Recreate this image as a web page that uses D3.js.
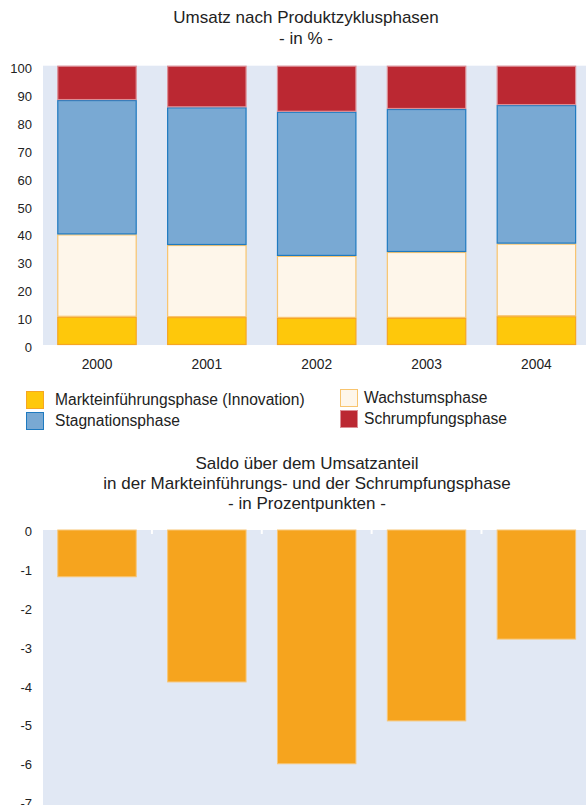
<!DOCTYPE html>
<html>
<head>
<meta charset="utf-8">
<script src="https://cdn.jsdelivr.net/npm/d3@7"></script>
<style>
  body { margin: 0; background: #fff; }
  svg { display: block; font-family: "Liberation Sans", Arial, sans-serif; fill: #222; }
</style>
</head>
<body>
<div id="chart"></div>
<script>
const YEARS = ["2000", "2001", "2002", "2003", "2004"];
const PHASES = ["Markteinführungsphase (Innovation)", "Wachstumsphase", "Stagnationsphase", "Schrumpfungsphase"];
const INNOVATION = [10.1, 10.0, 9.7, 9.7, 10.3];
const WACHSTUM = [29.5, 25.8, 22.2, 23.6, 26.0];
const STAGNATION = [48.1, 49.3, 51.6, 51.2, 49.6];
const SCHRUMPFUNG = [12.3, 14.9, 16.5, 15.5, 14.1];
const SALDO = [-1.2, -3.9, -6.0, -4.9, -2.8];
const TOP_TICKS = d3.range(0, 101, 10);
const BOTTOM_TICKS = d3.range(0, -8, -1);
const SUB_TITLE = ["Saldo über dem Umsatzanteil", "in der Markteinführungs- und der Schrumpfungsphase", "- in Prozentpunkten -"];

const FILL = ["#fec80b", "#fef6ea", "#79a9d3", "#bb2832"];
const STROKE = ["#f6a623", "#f8c46e", "#1f7ac0", "#dc8e95"];
const BG = "#e1e8f4";
const FONT = "Liberation Sans, Arial, sans-serif";

const W = 586, H = 805;
const svg = d3.select("#chart").append("svg").attr("width", W).attr("height", H);

const x = d3.scaleBand().domain(YEARS).range([43, 590.4]).paddingInner(0.277).paddingOuter(0.13);

// ---- top chart: stacked shares
svg.append("text").attr("x", 306).attr("y", 23).attr("text-anchor", "middle")
  .style("font-size", "17px").text("Umsatz nach Produktzyklusphasen");
svg.append("text").attr("x", 306).attr("y", 44).attr("text-anchor", "middle")
  .style("font-size", "17px").text("- in % -");

const yTop = d3.scaleLinear().domain([0, 100]).range([345, 65.7]);

svg.append("rect").attr("x", 43).attr("y", yTop(100)).attr("width", W - 43)
  .attr("height", yTop(0) - yTop(100)).attr("fill", BG);

const rows = YEARS.map((y, i) => ({ year: y, 0: INNOVATION[i], 1: WACHSTUM[i], 2: STAGNATION[i], 3: SCHRUMPFUNG[i] }));
const stack = d3.stack().keys([0, 1, 2, 3])(rows);

stack.forEach((layer, k) => {
  svg.append("g").selectAll("rect").data(layer).enter().append("rect")
    .attr("x", d => x(d.data.year) + 0.5)
    .attr("y", d => yTop(Math.min(d[1], 100)) + 0.5)
    .attr("width", x.bandwidth() - 1)
    .attr("height", d => yTop(d[0]) - yTop(Math.min(d[1], 100)) - 1)
    .attr("fill", FILL[k])
    .attr("stroke", STROKE[k])
    .attr("stroke-width", 1.2);
});

const yAxisTop = svg.append("g").attr("transform", "translate(32,2.5)")
  .call(d3.axisLeft(yTop).tickValues(TOP_TICKS).tickSize(0).tickPadding(0));
yAxisTop.select(".domain").remove();
yAxisTop.selectAll("text").style("font-size", "13px").attr("fill", "#222").attr("font-family", FONT);

const xAxisTop = svg.append("g").attr("transform", "translate(0,359)")
  .call(d3.axisBottom(x).tickSize(0).tickPadding(0));
xAxisTop.select(".domain").remove();
xAxisTop.selectAll("text").style("font-size", "13.8px").attr("fill", "#222").attr("font-family", FONT);

// legend
const legendItems = [
  { i: 0, x: 26, y: 391 },
  { i: 2, x: 26, y: 412 },
  { i: 1, x: 340, y: 389 },
  { i: 3, x: 340, y: 410 }
];
const legend = svg.append("g").selectAll("g").data(legendItems).enter().append("g")
  .attr("transform", d => `translate(${d.x},${d.y})`);
legend.append("rect").attr("x", 0.5).attr("y", 0.5).attr("width", 17).attr("height", 17)
  .attr("fill", d => FILL[d.i]).attr("stroke", d => STROKE[d.i]);
legend.append("text").attr("x", d => d.i === 0 || d.i === 2 ? 29 : 24).attr("y", 14)
  .style("font-size", "15.6px").text(d => PHASES[d.i]);

// ---- bottom chart: saldo
svg.append("g").selectAll("text").data(SUB_TITLE).enter().append("text")
  .attr("x", 307).attr("y", (d, i) => 469 + i * 20)
  .attr("text-anchor", "middle").style("font-size", "17px").text(d => d);

const yBot = d3.scaleLinear().domain([-7, 0]).range([802.7, 530]);

svg.append("rect").attr("x", 43).attr("y", yBot(0)).attr("width", W - 43)
  .attr("height", H - yBot(0)).attr("fill", BG);

svg.append("g").selectAll("rect").data(SALDO).enter().append("rect")
  .attr("x", (d, i) => x(YEARS[i]) + 0.5)
  .attr("y", yBot(0))
  .attr("width", x.bandwidth() - 1)
  .attr("height", d => yBot(d) - yBot(0))
  .attr("fill", "#f6a41e")
  .attr("stroke", "#f8c676")
  .attr("stroke-width", 1);

// white tick marks between the bands
const gaps = YEARS.slice(1).map(y => x(y) - x.step() * x.paddingInner() / 2);
svg.append("g").selectAll("line").data(gaps).enter().append("line")
  .attr("x1", d => d).attr("x2", d => d)
  .attr("y1", yBot(0)).attr("y2", yBot(0) + 4)
  .attr("stroke", "#fff").attr("stroke-width", 2);

const yAxisBot = svg.append("g").attr("transform", "translate(32,1)")
  .call(d3.axisLeft(yBot).tickValues(BOTTOM_TICKS).tickSize(0).tickPadding(0)
    .tickFormat(d => d === 0 ? "0" : "-" + Math.abs(d)));
yAxisBot.select(".domain").remove();
yAxisBot.selectAll("text").style("font-size", "13px").attr("fill", "#222").attr("font-family", FONT);
</script>
</body>
</html>
